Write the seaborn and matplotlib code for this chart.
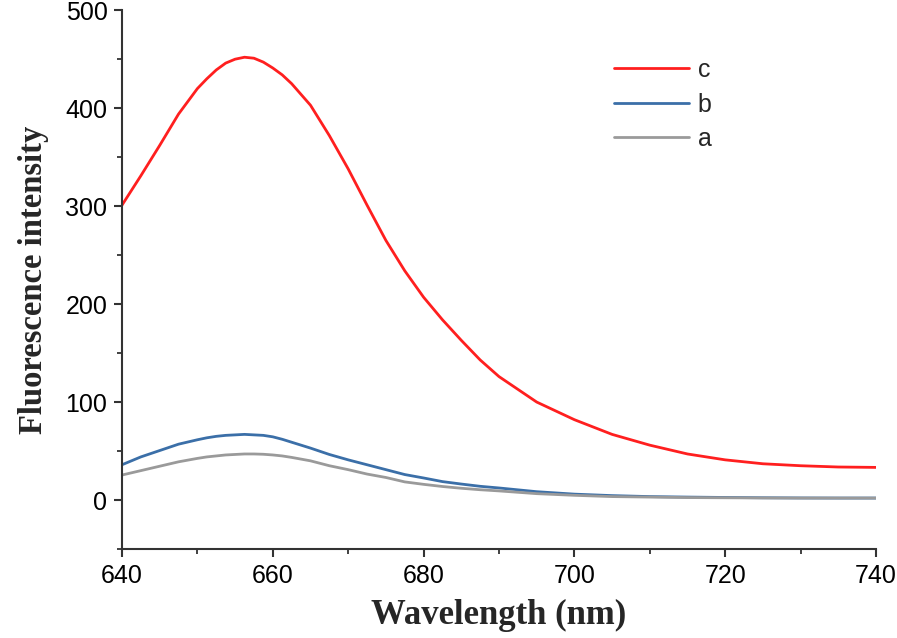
# Fluorescence spectra of samples a, b, c
import pandas as pd
import seaborn as sns
import matplotlib.pyplot as plt
from matplotlib.ticker import MultipleLocator

# Wavelength grid (nm)
wavelength = [640, 642.5, 645, 647.5, 650, 651.25, 652.5, 653.75, 655, 656.25,
              657.5, 658.75, 660, 661.25, 662.5, 665, 667.5, 670, 672.5, 675,
              677.5, 680, 682.5, 685, 687.5, 690, 695, 700, 705, 710,
              715, 720, 725, 730, 735, 740]

# Fluorescence intensity of each sample
intensity_c = [301, 331, 362, 394, 420, 430, 439, 446, 450, 452,
               451, 447, 441, 434, 425, 403, 372, 338, 301, 265,
               234, 207, 184, 163, 143, 126, 100, 82, 67, 56,
               47, 41, 37, 35, 33.7, 33.3]
intensity_b = [36, 44, 50.5, 57, 61.5, 63.5, 65, 66, 66.5, 67,
               66.5, 66, 64.5, 62, 59, 53, 46.5, 41, 36, 31,
               26, 22.5, 18.8, 16.3, 14, 12.3, 8.5, 6, 4.5, 3.5,
               3, 2.6, 2.3, 2.1, 2, 2]
intensity_a = [25.5, 30, 34.5, 39, 42.5, 44, 45, 46, 46.5, 47,
               47, 46.7, 46, 45, 43.5, 40, 35, 31, 26.5, 23,
               18.5, 16, 13.8, 12, 10.5, 9.3, 6.5, 4.8, 3.5, 3,
               2.5, 2.3, 2.1, 2, 2, 2]

df = pd.DataFrame({"Wavelength": wavelength,
                   "c": intensity_c, "b": intensity_b, "a": intensity_a})

sns.set_style("ticks")
plt.rcParams["font.family"] = ["Liberation Sans", "DejaVu Sans"]

fig = plt.figure(figsize=(8.97, 6.38), dpi=100)
ax = fig.add_axes([0.136, 0.1395, 0.8406, 0.8445])

colors = {"c": "#ff1f1f", "b": "#3b6fa8", "a": "#9a9a9a"}
for name in ["c", "b", "a"]:
    sns.lineplot(x="Wavelength", y=name, data=df, ax=ax, color=colors[name],
                 linewidth=2.0, label=name)

ax.set_xlim(640, 740)
ax.set_ylim(-50, 500)
ax.xaxis.set_major_locator(MultipleLocator(20))
ax.xaxis.set_minor_locator(MultipleLocator(10))
ax.yaxis.set_major_locator(MultipleLocator(100))
ax.yaxis.set_minor_locator(MultipleLocator(50))

sns.despine(ax=ax)
for side in ["left", "bottom"]:
    ax.spines[side].set_color("#333333")
    ax.spines[side].set_linewidth(1.5)
ax.tick_params(which="major", length=5.5, width=1.5, color="#333333",
               labelcolor="black", labelsize=18, pad=5)
ax.tick_params(which="minor", length=3.5, width=1.3, color="#333333")

ax.set_xlabel("Wavelength (nm)", family="Liberation Serif", weight="bold",
              fontsize=25, labelpad=8)
ax.set_ylabel("Fluorescence intensity", family="Liberation Serif",
              weight="bold", fontsize=23.5, labelpad=12)

ax.legend(loc="upper left", bbox_to_anchor=(0.6525, 0.911), frameon=False,
          fontsize=18, handlelength=3.0, handletextpad=0.35,
          labelspacing=0.42, borderpad=0, borderaxespad=0)

fig.savefig("out.png", dpi=100)
